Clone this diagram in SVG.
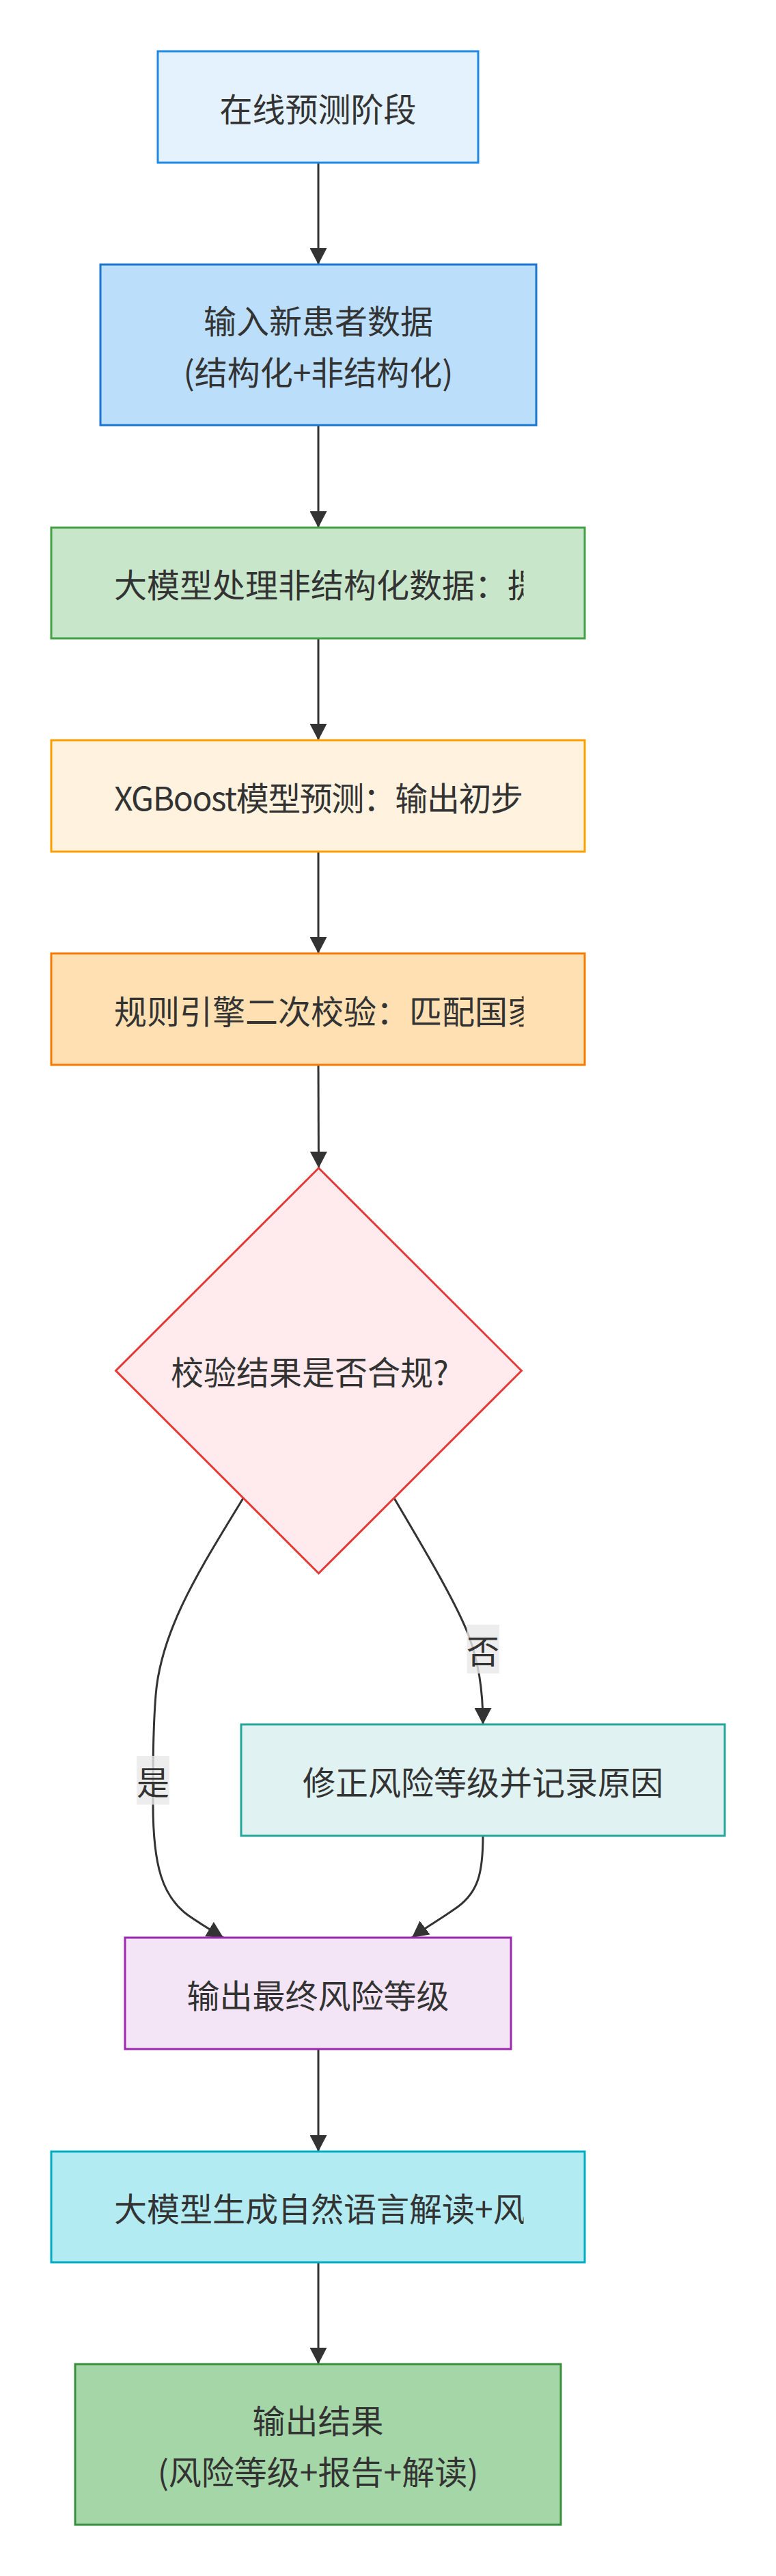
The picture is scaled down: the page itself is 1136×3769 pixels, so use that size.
<svg xmlns="http://www.w3.org/2000/svg" width="1136" height="3769" viewBox="0 0 1136 3769">
<style>
text{font-family:"Noto Sans CJK SC","Noto Sans",sans-serif;font-size:48px;fill:#333;dominant-baseline:central}
.c{text-anchor:middle}
.s{text-anchor:start}
.edge{fill:none;stroke:#333;stroke-width:3}
.node rect,.node polygon{stroke-width:3}
.lbl{fill:rgba(232,232,232,0.8)}
</style>
<defs>
<marker id="arrow" viewBox="0 0 10 10" refX="10" refY="5" markerUnits="userSpaceOnUse" markerWidth="24" markerHeight="25" orient="auto" preserveAspectRatio="none">
<path d="M0,0 L10,5 L0,10 z" fill="#333"/>
</marker>
<clipPath id="tc" clipPathUnits="userSpaceOnUse"><rect x="167" y="0" width="599.5" height="3769"/></clipPath>
</defs>
<rect width="1136" height="3769" fill="#fff"/>

<g id="edges">
<path class="edge" d="M466,238 L466,387" marker-end="url(#arrow)"/>
<path class="edge" d="M466,622 L466,772" marker-end="url(#arrow)"/>
<path class="edge" d="M466,934 L466,1083" marker-end="url(#arrow)"/>
<path class="edge" d="M466,1246 L466,1395" marker-end="url(#arrow)"/>
<path class="edge" d="M466,1558 L466.5,1709" marker-end="url(#arrow)"/>
<path class="edge" d="M356,2192 C300,2285 236,2380 228,2480 C224,2530 224,2580 224,2640 C224,2730 238,2775 275,2802 C295,2816 312,2826 327,2835" marker-end="url(#arrow)"/>
<path class="edge" d="M577,2192 C620,2265 665,2340 685,2390 C700,2430 707,2470 707,2523" marker-end="url(#arrow)"/>
<path class="edge" d="M707,2686 C707,2740 700,2768 670,2790 C645,2808 620,2822 603,2835" marker-end="url(#arrow)"/>
<path class="edge" d="M466,2998 L466,3148" marker-end="url(#arrow)"/>
<path class="edge" d="M466,3310 L466,3459" marker-end="url(#arrow)"/>
<g id="label-no">
<rect class="lbl" x="683.5" y="2377" width="47.5" height="71.5"/>
<text class="c" x="707" y="2413">否</text>
</g>
<g id="label-yes">
<rect class="lbl" x="200" y="2569" width="48" height="71.5"/>
<text class="c" x="224" y="2604.5">是</text>
</g>
</g>

<g id="n1" class="node">
<rect x="231" y="75" width="469" height="163" fill="#e3f2fd" stroke="#1e88e5"/>
<text class="c" x="465.5" y="156.5">在线预测阶段</text>
</g>
<g id="n2" class="node">
<rect x="147" y="387" width="638" height="235" fill="#bbdefb" stroke="#1976d2"/>
<text class="c" x="466" y="467">输入新患者数据</text>
<text class="c" x="466" y="542">(结构化+非结构化)</text>
</g>
<g id="n3" class="node">
<rect x="75" y="772" width="781" height="162" fill="#c8e6c9" stroke="#43a047"/>
<text class="s" x="167" y="853" clip-path="url(#tc)">大模型处理非结构化数据：提</text>
</g>
<g id="n4" class="node">
<rect x="75" y="1083" width="781" height="163" fill="#fff3e0" stroke="#ffa000"/>
<text class="s" x="167" y="1164.5" clip-path="url(#tc)" textLength="599" lengthAdjust="spacing">XGBoost模型预测：输出初步</text>
</g>
<g id="n5" class="node">
<rect x="75" y="1395" width="781" height="163" fill="#ffe0b2" stroke="#f57c00"/>
<text class="s" x="167" y="1476.5" clip-path="url(#tc)">规则引擎二次校验：匹配国家</text>
</g>
<g id="n6" class="node">
<polygon points="466.5,1709 763.5,2005.5 466.5,2302 169.5,2005.5" fill="#ffebee" stroke="#e53935"/>
<text class="s" x="250" y="2005">校验结果是否合规?</text>
</g>
<g id="n7" class="node">
<rect x="353" y="2523" width="708" height="163" fill="#e0f2f1" stroke="#26a69a"/>
<text class="c" x="707" y="2604.5">修正风险等级并记录原因</text>
</g>
<g id="n8" class="node">
<rect x="183" y="2835" width="565" height="163" fill="#f3e5f5" stroke="#9c27b0"/>
<text class="c" x="465.5" y="2916.5">输出最终风险等级</text>
</g>
<g id="n9" class="node">
<rect x="75" y="3148" width="781" height="162" fill="#b2ebf2" stroke="#00acc1"/>
<text class="s" x="167" y="3229" clip-path="url(#tc)">大模型生成自然语言解读+风</text>
</g>
<g id="n10" class="node">
<rect x="110" y="3459" width="711" height="235" fill="#a5d6a7" stroke="#388e3c"/>
<text class="c" x="465.5" y="3539">输出结果</text>
<text class="c" x="465.5" y="3614">(风险等级+报告+解读)</text>
</g>
</svg>
